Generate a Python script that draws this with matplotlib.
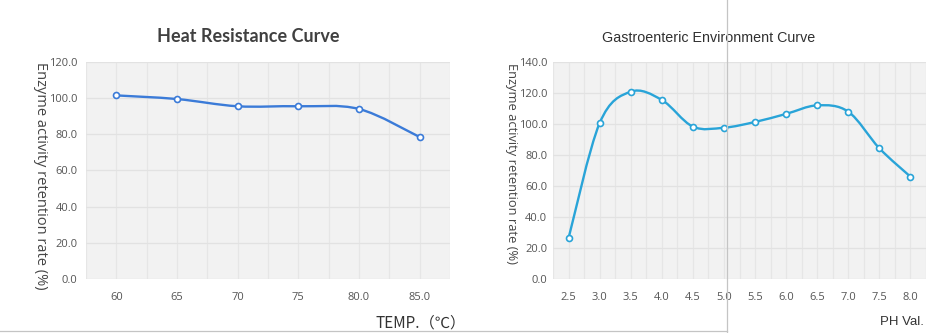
import numpy as np
import matplotlib
matplotlib.use("Agg")
import matplotlib.pyplot as plt
from matplotlib.path import Path
from matplotlib.patches import PathPatch
from matplotlib.lines import Line2D

# heat resistance data
temp_labels = ["60", "65", "70", "75", "80.0", "85.0"]
heat_values = [101.5, 99.5, 95.5, 95.5, 94.0, 78.5]

# gastroenteric (pH) data
ph_labels = ["2.5", "3.0", "3.5", "4.0", "4.5", "5.0", "5.5", "6.0", "6.5", "7.0", "7.5", "8.0"]
ph_values = [26.3, 100.5, 120.8, 115.5, 98.3, 97.6, 101.3, 106.5, 112.0, 107.9, 84.3, 66.0]

Y_LABEL = "Enzyme activity retention rate (%)"


def smooth_path(xs, ys):
    """Catmull-Rom style smoothing drawn as cubic bezier segments (like Excel smoothed line)."""
    pts = np.column_stack([xs, ys]).astype(float)
    n = len(pts)
    verts = [pts[0]]
    codes = [Path.MOVETO]
    for i in range(n - 1):
        p0 = pts[i - 1] if i > 0 else pts[i]
        p1 = pts[i]
        p2 = pts[i + 1]
        p3 = pts[i + 2] if i + 2 < n else pts[i + 1]
        c1 = p1 + (p2 - p0) / 6.0
        c2 = p2 - (p3 - p1) / 6.0
        verts += [c1, c2, p2]
        codes += [Path.CURVE4] * 3
    return Path(verts, codes)


def style_axes(ax, n, ymax, ystep):
    ax.set_facecolor("#f2f2f2")
    for s in ax.spines.values():
        s.set_visible(False)
    ax.set_xlim(-0.5, n - 0.5)
    ax.set_ylim(0, ymax)
    ax.set_yticks(np.arange(0, ymax + 1, ystep))
    ax.set_yticklabels([f"{v:.1f}" for v in np.arange(0, ymax + 1, ystep)])
    ax.set_xticks(np.arange(-0.5, n, 1.0), minor=True)
    ax.grid(True, which="major", axis="y", color="#e2e2e2", linewidth=0.9)
    ax.grid(True, which="both", axis="x", color="#e6e6e6", linewidth=0.9)
    ax.set_axisbelow(True)
    ax.tick_params(which="both", length=0)
    ax.tick_params(axis="x", pad=9, labelsize=8, labelcolor="#555555")
    ax.tick_params(axis="y", pad=6, labelsize=8, labelcolor="#555555")
    for lab in ax.get_xticklabels() + ax.get_yticklabels():
        lab.set_family("Open Sans")


fig = plt.figure(figsize=(9.43, 3.33), dpi=100)
fig.patch.set_facecolor("white")

# --- left: heat resistance ---
ax1 = fig.add_axes([0.0912, 0.162, 0.386, 0.652])
x1 = np.arange(len(heat_values))
ax1.set_xticks(x1)
ax1.set_xticklabels(temp_labels)
style_axes(ax1, len(heat_values), 120, 20)
c1 = "#3b7bd8"
ax1.add_patch(PathPatch(smooth_path(x1, heat_values), fill=False, edgecolor=c1,
                        linewidth=1.7, zorder=3))
ax1.plot(x1, heat_values, linestyle="none", marker="o", markersize=4.3,
         markerfacecolor="white", markeredgecolor=c1, markeredgewidth=1.2, zorder=4)
ax1.set_title("Heat Resistance Curve", fontsize=13, fontweight="bold",
              color="#404040", family="Lato", pad=14, x=0.445)
ax1.set_ylabel(Y_LABEL, rotation=-90, fontsize=10.5, color="#454545", family="Open Sans")
ax1.yaxis.set_label_coords(-0.146, 0.475)

# --- right: gastroenteric environment ---
ax2 = fig.add_axes([0.5864, 0.162, 0.3956, 0.652])
x2 = np.arange(len(ph_values))
ax2.set_xticks(x2)
ax2.set_xticklabels(ph_labels)
style_axes(ax2, len(ph_values), 140, 20)
ax2.tick_params(axis="y", pad=4)
c2 = "#29a4d8"
ax2.add_patch(PathPatch(smooth_path(x2, ph_values), fill=False, edgecolor=c2,
                        linewidth=1.7, zorder=3))
ax2.plot(x2, ph_values, linestyle="none", marker="o", markersize=4.3,
         markerfacecolor="white", markeredgecolor=c2, markeredgewidth=1.2, zorder=4)
ax2.set_title("Gastroenteric Environment Curve", fontsize=10.3, color="#303030",
              family="Liberation Sans", pad=14, x=0.416)
ax2.set_ylabel(Y_LABEL, rotation=-90, fontsize=9.3, color="#454545", family="Open Sans")
ax2.yaxis.set_label_coords(-0.129, 0.532)

# axis names sit below the plots at the right
fig.text(375 / 943, 1 - 323 / 333, "TEMP.（℃）", fontsize=11, color="#333333",
         family=["Noto Sans CJK SC", "DejaVu Sans"], va="center", ha="left")
fig.text(880 / 943, 1 - 322 / 333, "PH Val.", fontsize=9.5, color="#333333",
         family="Liberation Sans", va="center", ha="left")

# separator lines from the original screenshot
fig.add_artist(Line2D([727 / 943, 727 / 943], [0, 1], color="#c4c4c4", linewidth=0.9))
fig.add_artist(Line2D([0, 727 / 943], [2 / 333, 2 / 333], color="#c4c4c4", linewidth=0.9))

fig.savefig("out.png", dpi=100)
